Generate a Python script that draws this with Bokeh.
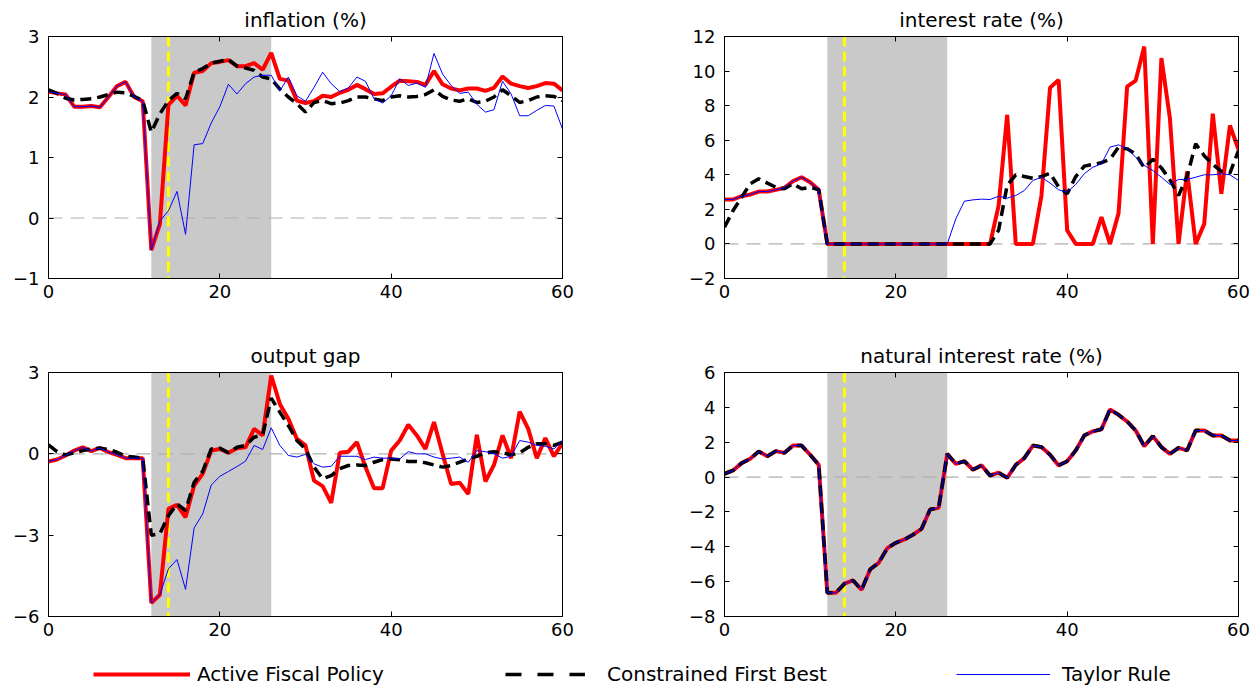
from bokeh.plotting import figure
from bokeh.models import (BoxAnnotation, Span, LinearAxis, Legend, LegendItem, FixedTicker,
                          Range1d, CustomLabelingPolicy)
from bokeh.layouts import column, row
from bokeh.embed import file_html
from bokeh.resources import INLINE

# ---------------- data ----------------
t = list(range(61))
shade_start, shade_end = 12, 26
event_t = 14

infl_afp = [2.09, 2.06, 2.04, 1.84, 1.84, 1.85, 1.83, 2.0, 2.18, 2.25, 2.0, 1.93,
            -0.53, -0.1, 1.87, 2.02, 1.86, 2.4, 2.43, 2.56, 2.58, 2.61, 2.51, 2.51,
            2.56, 2.45, 2.73, 2.3, 2.27, 1.94, 1.9, 1.93, 2.02, 2.0, 2.07, 2.12, 2.2,
            2.13, 2.05, 2.06, 2.17, 2.27, 2.26, 2.25, 2.2, 2.43, 2.21, 2.14, 2.11, 2.14,
            2.14, 2.1, 2.15, 2.34, 2.22, 2.18, 2.15, 2.18, 2.23, 2.22, 2.11]
infl_cfb = [2.12, 2.06, 1.98, 1.95, 1.96, 1.97, 2.0, 2.04, 2.08, 2.07, 2.01, 1.94,
            1.42, 1.72, 1.94, 2.06, 1.97, 2.41, 2.47, 2.56, 2.59, 2.62, 2.51, 2.48,
            2.44, 2.33, 2.3, 2.13, 2.0, 1.89, 1.75, 1.91, 1.94, 1.89, 1.9, 1.94, 2.0,
            2.0, 1.97, 1.94, 2.0, 2.02, 2.0, 2.01, 2.04, 2.12, 2.01, 1.95, 1.93, 1.97,
            1.91, 1.93, 2.0, 2.12, 2.02, 1.91, 1.94, 2.0, 2.02, 2.01, 1.94]
infl_tr = [2.09, 2.06, 2.04, 1.84, 1.84, 1.85, 1.83, 2.0, 2.18, 2.25, 2.0, 1.93,
           -0.53, -0.05, 0.12, 0.44, -0.27, 1.21, 1.23, 1.57, 1.84, 2.21, 2.05, 2.22,
           2.33, 2.36, 2.36, 2.1, 2.33, 2.02, 1.93, 2.16, 2.41, 2.22, 2.09, 2.15, 2.33,
           2.26, 1.97, 1.9, 2.02, 2.3, 2.19, 2.23, 2.16, 2.72, 2.38, 2.19, 2.06, 2.08,
           1.88, 1.75, 1.79, 2.26, 2.05, 1.69, 1.69, 1.78, 1.86, 1.85, 1.47]

rate_afp = [2.57, 2.57, 2.76, 2.86, 3.03, 3.03, 3.13, 3.25, 3.63, 3.86, 3.57, 3.13,
            0, 0, 0, 0, 0, 0, 0, 0, 0, 0, 0, 0, 0, 0, 0, 0, 0, 0, 0, 0,
            2.22, 7.47, 0, 0, 0, 2.8, 9.03, 9.49, 0.78, 0, 0, 0, 1.55, 0, 1.78,
            9.1, 9.45, 11.42, 0, 10.75, 7.24, 0, 4.19, 0, 1.16, 7.53, 2.9, 6.85, 5.46]
rate_cfb = [0.97, 1.93, 2.7, 3.48, 3.77, 3.52, 3.28, 3.19, 3.48, 3.19, 3.28, 3.13,
            0, 0, 0, 0, 0, 0, 0, 0, 0, 0, 0, 0, 0, 0, 0, 0, 0, 0, 0, 0,
            0.8, 3.4, 4.0, 3.9, 3.8, 3.9, 4.1, 3.3, 2.9, 3.9, 4.5, 4.6, 4.7, 4.9, 5.6,
            5.5, 5.2, 4.4, 4.9, 4.4, 3.7, 2.8, 3.9, 5.8, 5.1, 4.6, 4.2, 4.1, 5.4]
rate_tr = [2.57, 2.57, 2.76, 2.86, 3.03, 3.03, 3.13, 3.25, 3.63, 3.86, 3.57, 3.13,
           0, 0, 0, 0, 0, 0, 0, 0, 0, 0, 0, 0, 0, 0, 0,
           1.45, 2.47, 2.55, 2.59, 2.57, 2.76, 2.65, 2.8, 3.09, 3.67, 3.86, 3.52, 3.13,
           3.0, 3.44, 4.06, 4.44, 4.63, 5.6, 5.73, 5.5, 5.02, 4.54, 4.25, 3.86, 3.44,
           3.73, 3.73, 3.86, 4.0, 4.0, 4.06, 4.0, 3.67]

gap_afp = [-0.28, -0.21, -0.06, 0.12, 0.24, 0.1, 0.22, 0.06, -0.04, -0.16, -0.16, -0.16,
           -5.5, -5.2, -2.03, -1.88, -2.34, -1.17, -0.74, 0.12, 0.18, 0.04, 0.21, 0.24,
           0.92, 0.68, 2.89, 1.84, 1.29, 0.55, 0.31, -0.99, -1.19, -1.81, 0.04, 0.08,
           0.43, -0.49, -1.27, -1.27, 0.12, 0.49, 1.07, 0.68, 0.18, 1.17, 0.0, -1.11,
           -1.07, -1.48, 0.7, -1.02, -0.41, 0.68, -0.16, 1.56, 0.92, -0.16, 0.58, -0.09, 0.4]
gap_cfb = [0.33, 0.08, -0.04, 0.04, 0.12, 0.18, 0.21, 0.16, 0.06, -0.09, -0.12, -0.16,
           -3.0, -2.95, -2.28, -1.85, -2.09, -1.05, -0.65, 0.18, 0.21, 0.04, 0.24, 0.31,
           0.61, 0.7, 2.05, 1.54, 1.04, 0.49, 0.18, -0.49, -0.92, -0.8, -0.55, -0.43,
           -0.41, -0.43, -0.31, -0.21, -0.19, -0.22, -0.28, -0.28, -0.33, -0.41, -0.49,
           -0.43, -0.31, -0.19, -0.09, 0.04, 0.08, 0.04, -0.04, 0.04, 0.24, 0.37, 0.37, 0.31, 0.43]
gap_tr = [-0.28, -0.21, -0.06, 0.12, 0.24, 0.1, 0.22, 0.06, -0.04, -0.16, -0.16, -0.16,
          -5.5, -5.2, -4.24, -3.9, -5.0, -2.73, -2.22, -1.15, -0.83, -0.65, -0.47, -0.27,
          0.31, 0.16, 0.96, 0.31, -0.06, -0.12, -0.02, -0.37, -0.49, -0.46, -0.09, -0.09,
          -0.09, -0.21, -0.12, -0.16, -0.16, -0.19, 0.08, 0.0, 0.0, -0.12, -0.19, -0.16,
          -0.12, -0.31, 0.12, 0.08, 0.0, -0.16, -0.09, 0.49, 0.43, 0.31, 0.28, 0.18, 0.49]

nat_rate = [0.19, 0.38, 0.8, 1.05, 1.47, 1.2, 1.49, 1.39, 1.81, 1.81, 1.28, 0.7,
            -6.64, -6.64, -6.12, -5.93, -6.47, -5.3, -4.92, -4.08, -3.77, -3.58, -3.31,
            -2.97, -1.86, -1.76, 1.33, 0.76, 0.91, 0.42, 0.67, 0.09, 0.25, -0.04, 0.7,
            1.09, 1.81, 1.72, 1.28, 0.67, 0.91, 1.53, 2.39, 2.62, 2.74, 3.88, 3.57, 3.19,
            2.67, 1.77, 2.35, 1.72, 1.33, 1.68, 1.53, 2.67, 2.67, 2.39, 2.39, 2.1, 2.1]

x_ticks = [0, 20, 40, 60]
infl_ticks = [-1, 0, 1, 2, 3]
rate_ticks = [-2, 0, 2, 4, 6, 8, 10, 12]
gap_ticks = [-6, -3, 0, 3]
nat_ticks = [-8, -6, -4, -2, 0, 2, 4, 6]

titles = ["inflation (%)", "interest rate (%)", "output gap", "natural interest rate (%)"]
series_labels = ["Active Fiscal Policy", "Constrained First Best", "Taylor Rule"]

# ---------------- styling ----------------
FONT = "DejaVu Sans"
RED, BLACK, BLUE = "#ff0000", "#000000", "#0000ff"


def overrides(ticks):
    return {v: ("\u2212" + str(abs(v))) for v in ticks if v < 0}


def style_axis(ax, ticks, show_labels, standoff):
    ax.ticker = FixedTicker(ticks=ticks)
    ax.major_tick_in = 5
    ax.major_tick_out = 0
    ax.minor_tick_line_color = None
    ax.axis_line_color = "black"
    ax.major_tick_line_color = "black"
    ax.major_label_text_font = FONT
    ax.major_label_text_color = "black"
    if show_labels:
        ax.major_label_text_font_size = "18px"
        ax.major_label_standoff = standoff
        ax.major_label_overrides = overrides(ticks)
    else:
        ax.major_label_text_font_size = "0px"
        ax.major_label_standoff = 0
        ax.major_label_policy = CustomLabelingPolicy(code="return new Set()")


def make_panel(title, afp, cfb, tr, y_ticks, width, height, bl, br, bt, bb):
    p = figure(width=width, height=height,
               x_range=Range1d(x_ticks[0], x_ticks[-1]),
               y_range=Range1d(y_ticks[0], y_ticks[-1]),
               output_backend="svg", toolbar_location=None,
               min_border_left=bl, min_border_right=br,
               min_border_top=bt, min_border_bottom=bb, title=title)
    p.title.align = "center"
    p.title.text_font = FONT
    p.title.text_font_size = "20px"
    p.title.text_font_style = "normal"
    p.title.text_color = "black"
    p.title.offset = 0
    p.title.standoff = 9
    p.xgrid.visible = False
    p.ygrid.visible = False
    p.outline_line_color = "black"
    p.outline_line_alpha = 1
    p.background_fill_color = "white"
    p.border_fill_color = "white"

    p.add_layout(BoxAnnotation(left=shade_start, right=shade_end, fill_color="#c9c9c9",
                               fill_alpha=1, line_color=None, level="underlay"))
    p.add_layout(Span(location=0, dimension="width", line_color="#b0b0b0",
                      line_dash="14 8", line_width=1.2, level="underlay"))
    p.add_layout(Span(location=event_t, dimension="height", line_color="#ffff00",
                      line_dash="10 5", line_width=3, level="underlay"))

    p.line(t, afp, line_color=RED, line_width=4)
    p.line(t, cfb, line_color=BLACK, line_width=3.5, line_dash="11 6")
    p.line(t, tr, line_color=BLUE, line_width=1)

    style_axis(p.xaxis[0], x_ticks, True, 6)
    style_axis(p.yaxis[0], y_ticks, True, 9)
    top = LinearAxis()
    style_axis(top, x_ticks, False, 0)
    p.add_layout(top, "above")
    right = LinearAxis()
    style_axis(right, y_ticks, False, 0)
    p.add_layout(right, "right")
    return p


p1 = make_panel(titles[0], infl_afp, infl_cfb, infl_tr, infl_ticks, 640, 330, 48, 78, 36, 52)
p2 = make_panel(titles[1], rate_afp, rate_cfb, rate_tr, rate_ticks, 616, 330, 84, 18, 36, 52)
p3 = make_panel(titles[2], gap_afp, gap_cfb, gap_tr, gap_ticks, 640, 318, 48, 78, 42, 32)
p4 = make_panel(titles[3], nat_rate, nat_rate, nat_rate, nat_ticks, 616, 318, 84, 18, 42, 32)

# ---------------- legend strip ----------------
lg = figure(width=1256, height=38, x_range=Range1d(0, 1), y_range=Range1d(0, 1),
            output_backend="svg", toolbar_location=None, min_border=0,
            outline_line_color=None)
lg.xaxis.visible = False
lg.yaxis.visible = False
lg.xgrid.visible = False
lg.ygrid.visible = False
# legend-only renderers, kept outside the visible range of this strip
hidden_x, hidden_y = [-5, -4], [-5, -5]
r_afp = lg.line(x=hidden_x, y=hidden_y, line_color=RED, line_width=4)
r_cfb = lg.line(x=hidden_x, y=hidden_y, line_color=BLACK, line_width=3.5, line_dash="16 16")
r_tr = lg.line(x=hidden_x, y=hidden_y, line_color=BLUE, line_width=1)

for rend, label, x0, gw, so in ((r_afp, series_labels[0], 93, 97, 7),
                                (r_cfb, series_labels[1], 505, 80, 22),
                                (r_tr, series_labels[2], 956, 94, 12)):
    leg = Legend(items=[LegendItem(label=label, renderers=[rend])],
                 location=(x0, 0), orientation="horizontal", glyph_width=gw,
                 glyph_height=18, label_standoff=so, padding=0, margin=0,
                 spacing=0, border_line_color=None, background_fill_alpha=0,
                 label_text_font=FONT, label_text_font_size="20px",
                 label_text_color="black", label_height=18)
    lg.add_layout(leg)

layout = column(row(p1, p2), row(p3, p4), lg)
open("out.html", "w").write(file_html(layout, INLINE))
